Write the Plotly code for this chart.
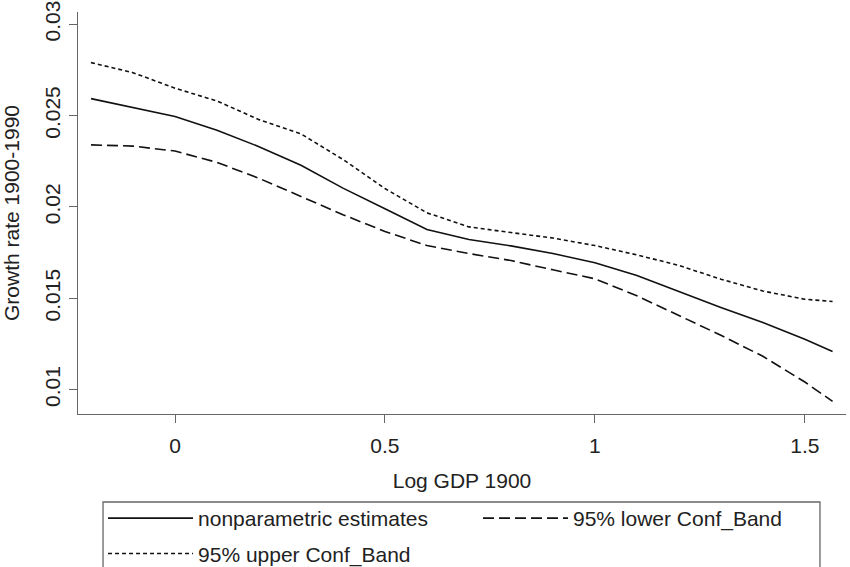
import plotly.graph_objects as go

# Log GDP 1900 grid (x values)
log_gdp = [-0.2, -0.1, 0.0, 0.1, 0.2, 0.3, 0.4, 0.5, 0.6, 0.7, 0.8, 0.9,
           1.0, 1.1, 1.2, 1.3, 1.4, 1.5, 1.566]

# nonparametric estimates
estimate = [0.02593, 0.02545, 0.02495, 0.02420, 0.02330, 0.02228, 0.02103,
            0.01990, 0.01877, 0.01822, 0.01787, 0.01745, 0.01695, 0.01625,
            0.01538, 0.01450, 0.01368, 0.01276, 0.01209]

# 95% lower confidence band
lower = [0.02340, 0.02333, 0.02306, 0.02244, 0.02157, 0.02058, 0.01958,
         0.01866, 0.01789, 0.01745, 0.01707, 0.01656, 0.01607, 0.01514,
         0.01408, 0.01298, 0.01183, 0.01042, 0.00936]

# 95% upper confidence band
upper = [0.02790, 0.02735, 0.02650, 0.02580, 0.02478, 0.02400, 0.02260,
         0.02101, 0.01968, 0.01891, 0.01860, 0.01830, 0.01789, 0.01738,
         0.01680, 0.01605, 0.01540, 0.01495, 0.01483]

x_ticks = [0, 0.5, 1, 1.5]
x_ticklabels = ["0", "0.5", "1", "1.5"]
y_ticks = [0.01, 0.015, 0.02, 0.025, 0.03]
y_ticklabels = ["0.01", "0.015", "0.02", "0.025", "0.03"]

FONT = "Liberation Sans, Arial, sans-serif"
FS = 21
LINE = "#111111"
AXIS = "#666666"
TXT = "#222222"

fig = go.Figure()
fig.add_trace(go.Scatter(x=log_gdp, y=estimate, mode="lines",
                         name="nonparametric estimates",
                         legend="legend", legendgroup="a",
                         line=dict(color=LINE, width=1.6)))
fig.add_trace(go.Scatter(x=log_gdp, y=lower, mode="lines",
                         name="95% lower Conf_Band",
                         legend="legend2", legendgroup="b",
                         line=dict(color=LINE, width=1.6, dash="11px,5px")))
fig.add_trace(go.Scatter(x=log_gdp, y=upper, mode="lines",
                         name="95% upper Conf_Band",
                         legend="legend", legendgroup="c",
                         line=dict(color=LINE, width=1.6, dash="4px,3px")))

legend_common = dict(
    orientation="v",
    yanchor="top",
    bgcolor="rgba(0,0,0,0)",
    borderwidth=0,
    itemwidth=85,
    tracegroupgap=5,
    font=dict(family=FONT, size=FS, color=TXT),
    traceorder="grouped",
)

fig.update_layout(
    width=850, height=567,
    margin=dict(l=78, r=4, t=12, b=153, autoexpand=False),
    paper_bgcolor="white", plot_bgcolor="white",
    font=dict(family=FONT, size=FS, color=TXT),
    showlegend=True,
    legend=dict(x=0.0326, xanchor="left", y=-0.209, **legend_common),
    legend2=dict(x=0.5208, xanchor="left", y=-0.209, **legend_common),
    shapes=[dict(
        type="rect", xref="paper", yref="paper",
        x0=0.0326, x1=0.9661, y0=-0.2189, y1=-0.45,
        line=dict(color=AXIS, width=1.3), fillcolor="rgba(0,0,0,0)",
        layer="below",
    )],
    xaxis=dict(
        range=[-0.231, 1.598],
        tickvals=x_ticks, ticktext=x_ticklabels,
        tickfont=dict(family=FONT, size=FS, color=TXT),
        showgrid=False, zeroline=False,
        showline=True, linecolor=AXIS, linewidth=1.3,
        ticks="outside", ticklen=8, tickcolor=AXIS, tickwidth=1.3,
        ticklabelstandoff=5,
        title=dict(text="Log GDP 1900", standoff=16,
                   font=dict(family=FONT, size=FS, color=TXT)),
        automargin=False,
    ),
    yaxis=dict(
        range=[0.008671, 0.03067],
        tickvals=y_ticks, ticktext=y_ticklabels,
        tickfont=dict(family=FONT, size=FS, color=TXT),
        tickangle=-90,
        showgrid=False, zeroline=False,
        showline=True, linecolor=AXIS, linewidth=1.3,
        ticks="outside", ticklen=8, tickcolor=AXIS, tickwidth=1.3,
        title=dict(text="Growth rate 1900-1990", standoff=16,
                   font=dict(family=FONT, size=FS, color=TXT)),
        automargin=False,
    ),
)

fig.write_html("out.html")
